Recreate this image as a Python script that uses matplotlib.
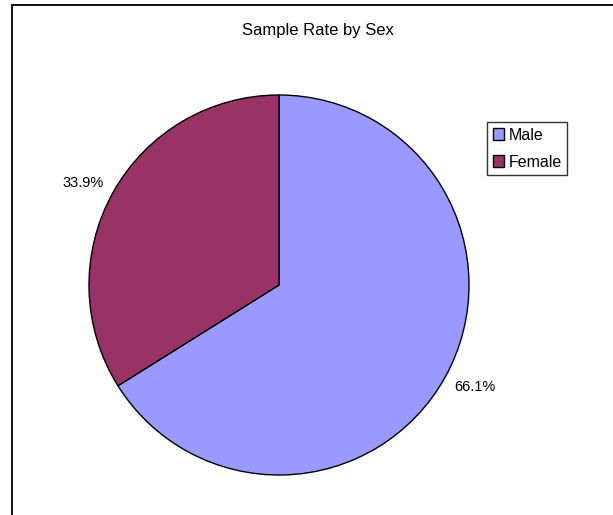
import numpy as np
import matplotlib.pyplot as plt
from matplotlib.lines import Line2D
from matplotlib.patches import Patch

plt.rcParams['font.family'] = ['Liberation Sans', 'DejaVu Sans']

# data
labels = ["Male", "Female"]
rates = [66.1, 33.9]
colors = ["#9999FF", "#993366"]

W, H = 613, 515
fig = plt.figure(figsize=(W / 100, H / 100), dpi=100)

# pie axes: centre ~(279, 285) px, radius ~190 px
ax = fig.add_axes([89 / W, (H - 475) / H, 380 / W, 380 / H])
wedges, texts, autotexts = ax.pie(
    rates, colors=colors, startangle=90, counterclock=False,
    autopct="%.1f%%", pctdistance=1.16,
    wedgeprops=dict(edgecolor="black", linewidth=1.0),
    textprops=dict(fontsize=10.5, color="black"))
ax.set_xlim(-1, 1)
ax.set_ylim(-1, 1)
ax.set_aspect("auto")

# excel puts the labels a touch counter-clockwise of the wedge middle
for w, t in zip(wedges, autotexts):
    ang = np.deg2rad((w.theta1 + w.theta2) / 2 + 1.5)
    t.set_position((1.16 * np.cos(ang), 1.16 * np.sin(ang)))

fig.text(318 / W, 1 - 30 / H, "Sample Rate by Sex", ha="center", va="center", fontsize=12)

handles = [Patch(facecolor=c, edgecolor="black", linewidth=1.0) for c in colors]
leg = fig.legend(handles, labels, loc="upper left", bbox_to_anchor=(487 / W, 1 - 122 / H),
                 frameon=True, fancybox=False, shadow=False, fontsize=11.5,
                 handlelength=0.7, handleheight=0.7, handletextpad=0.3,
                 labelspacing=0.75, borderpad=0.35, borderaxespad=0)
leg.get_frame().set_edgecolor("black")
leg.get_frame().set_linewidth(1.0)

# chart-area border (left and top edges only visible)
fig.add_artist(Line2D([12 / W, 12 / W], [0, 1 - 5 / H], color="black", linewidth=1.3, transform=fig.transFigure))
fig.add_artist(Line2D([12 / W, 1], [1 - 5 / H, 1 - 5 / H], color="black", linewidth=1.3, transform=fig.transFigure))

fig.savefig("out.png", dpi=100)
